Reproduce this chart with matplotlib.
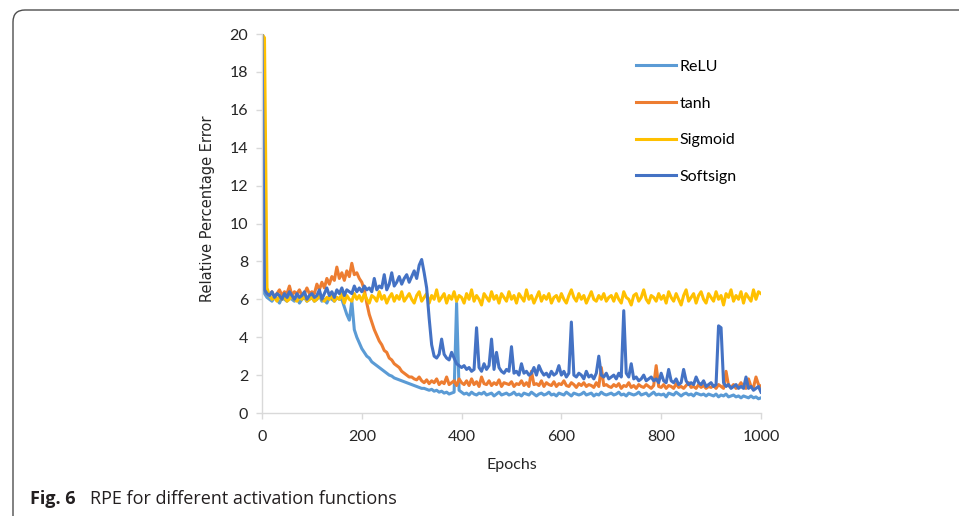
import numpy as np
import matplotlib
matplotlib.use("Agg")
import matplotlib.pyplot as plt
from matplotlib.patches import FancyBboxPatch

# RPE, one value every 5 epochs (0 .. 1000)
epochs = np.arange(0, 1001, 5)

relu = [
    20, 6.3, 6.1, 6.0, 5.9, 6.1, 6.0, 5.8, 6.1, 6.0, 5.9, 6.2, 6.0, 5.9, 6.1, 5.8, 6.0, 6.1, 5.9, 6.0,
    6.1, 5.9, 6.0, 6.2, 5.9, 6.0, 5.8, 6.1, 6.0, 5.9, 6.1, 6.0, 6.0, 5.6, 5.2, 4.9, 5.9, 4.4, 4.0, 3.7,
    3.4, 3.2, 3.0, 2.9, 2.7, 2.6, 2.5, 2.4, 2.3, 2.2, 2.1, 2.0, 1.95, 1.85, 1.8, 1.75, 1.7, 1.65, 1.6, 1.55,
    1.5, 1.45, 1.4, 1.35, 1.3, 1.3, 1.25, 1.2, 1.25, 1.15, 1.2, 1.1, 1.15, 1.05, 1.1, 1.0, 1.05, 1.1, 5.8, 1.2,
    1.1, 1.0, 1.05, 0.95, 1.1, 1.0, 0.95, 1.05, 1.0, 1.1, 0.95, 1.0, 1.05, 0.9, 1.0, 1.1, 0.95, 1.0, 1.05, 0.95,
    1.0, 1.1, 0.95, 1.0, 0.9, 1.05, 1.0, 0.95, 1.1, 1.0, 0.9, 1.0, 1.05, 0.95, 1.0, 1.1, 0.95, 1.0, 0.9, 1.05,
    1.0, 0.95, 1.1, 1.0, 0.9, 1.05, 1.0, 0.95, 1.0, 1.1, 0.95, 1.0, 1.05, 0.9, 1.0, 0.95, 1.1, 1.0, 0.95, 1.0,
    1.05, 0.95, 1.0, 1.1, 0.95, 1.0, 0.9, 1.05, 1.0, 0.95, 1.0, 1.1, 0.95, 1.0, 1.05, 0.9, 1.0, 1.1, 0.95, 1.0,
    0.95, 1.0, 0.85, 1.05, 1.0, 0.95, 1.1, 1.0, 0.9, 1.0, 1.05, 0.95, 1.0, 0.9, 1.05, 1.0, 0.95, 1.0, 0.9, 1.0,
    0.95, 0.9, 1.0, 0.85, 0.95, 0.9, 1.0, 0.85, 0.9, 0.95, 0.85, 0.9, 0.8, 0.9, 0.85, 0.8, 0.9, 0.8, 0.85, 0.75,
    0.8]

tanh = [
    20, 6.6, 6.3, 6.2, 6.4, 6.1, 6.3, 6.5, 6.2, 6.4, 6.3, 6.7, 6.2, 6.4, 6.3, 6.5, 6.2, 6.3, 6.6, 6.3,
    6.4, 6.3, 6.8, 6.5, 6.9, 6.6, 7.1, 6.8, 7.2, 7.0, 7.7, 7.1, 7.4, 7.0, 7.5, 7.2, 7.9, 7.3, 7.4, 7.1,
    6.9, 6.5, 5.8, 5.2, 4.8, 4.4, 4.1, 3.8, 3.6, 3.3, 3.2, 2.9, 2.8, 2.6, 2.5, 2.4, 2.2, 2.1, 2.0, 1.9,
    1.9, 1.8, 1.75, 1.9, 1.7, 1.6, 1.75, 1.55, 1.7, 1.6, 1.8, 1.5, 1.65, 1.55, 1.9, 1.5, 1.6, 1.7, 1.45, 1.8,
    1.6, 1.5, 1.7, 1.45, 1.8, 1.5, 1.65, 1.4, 1.9, 1.55, 1.5, 1.7, 1.45, 1.6, 1.5, 1.75, 1.4, 1.6, 1.55, 1.5,
    1.65, 1.4, 1.55, 1.5, 1.7, 1.45, 1.6, 1.4, 2.2, 1.5, 1.55, 1.45, 1.7, 1.4, 1.6, 1.5, 1.45, 1.65, 1.4, 1.55,
    1.5, 1.7, 1.45, 1.4, 1.6, 1.5, 1.35, 1.55, 1.45, 1.6, 1.4, 1.5, 1.45, 1.35, 1.6, 1.4, 2.4, 1.45, 1.5, 1.4,
    1.35, 1.5, 1.4, 1.55, 1.3, 1.45, 1.4, 1.6, 1.35, 1.45, 1.3, 1.5, 1.4, 1.35, 1.5, 1.4, 1.3, 1.45, 2.5, 1.4,
    1.35, 1.5, 1.3, 1.45, 1.4, 1.3, 1.55, 1.35, 1.4, 1.3, 1.45, 1.6, 1.35, 1.4, 1.3, 1.5, 1.35, 1.45, 1.3, 1.4,
    1.35, 1.45, 1.3, 1.5, 1.4, 1.3, 2.2, 1.45, 1.35, 1.5, 1.3, 1.4, 1.6, 1.35, 1.3, 1.8, 1.4, 1.35, 1.9, 1.5,
    1.4]

sigmoid = [
    20, 19.8, 6.6, 6.2, 6.0, 6.1, 5.9, 6.2, 6.0, 6.1, 5.9, 6.0, 6.2, 6.0, 5.9, 6.1, 6.0, 6.2, 5.9, 6.0,
    6.1, 5.9, 6.0, 6.2, 6.0, 5.9, 6.1, 6.0, 6.2, 5.9, 6.1, 6.0, 6.3, 5.8, 6.2, 6.0, 5.9, 6.3, 6.0, 6.2,
    5.9, 6.3, 6.0, 5.8, 6.2, 6.1, 5.9, 6.4, 6.0, 6.2, 5.8, 6.1, 6.3, 5.9, 6.2, 6.0, 6.4, 5.9, 6.1, 6.3,
    6.0, 5.8, 6.2, 6.4, 5.9, 6.1, 6.3, 5.8, 6.2, 6.0, 6.5, 5.9, 6.1, 6.3, 5.8, 6.2, 6.0, 6.4, 5.9, 6.2,
    6.1, 5.8, 6.3, 6.0, 6.5, 5.9, 6.2, 6.0, 5.7, 6.3, 6.1, 5.9, 6.4, 6.0, 6.2, 5.8, 6.3, 6.1, 5.9, 6.4,
    6.0, 6.2, 5.8, 6.3, 6.1, 5.9, 6.5, 6.0, 6.2, 5.8, 6.1, 6.4, 5.9, 6.2, 6.0, 6.3, 5.8, 6.1, 6.2, 5.9,
    6.3, 6.0, 5.8, 6.2, 6.5, 6.1, 5.9, 6.3, 6.0, 6.2, 5.8, 6.1, 6.4, 6.0, 5.9, 6.2, 6.0, 6.3, 5.9, 6.1,
    6.2, 5.9, 6.3, 6.0, 5.8, 6.4, 6.1, 6.0, 5.7, 6.2, 6.3, 5.9, 6.1, 6.5, 6.0, 5.8, 6.2, 6.1, 5.9, 6.3,
    6.0, 6.2, 5.8, 6.4, 6.1, 5.9, 6.3, 6.0, 5.7, 6.2, 6.5, 5.9, 6.1, 6.3, 5.8, 6.2, 6.4, 6.0, 5.8, 6.3,
    6.1, 5.9, 6.4, 6.0, 6.2, 5.7, 6.3, 6.1, 6.5, 5.9, 6.2, 6.0, 6.4, 5.8, 6.3, 6.1, 5.9, 6.5, 6.0, 6.4,
    6.3]

softsign = [
    20, 6.5, 6.3, 6.2, 6.4, 6.1, 6.3, 6.2, 6.0, 6.3, 6.1, 6.4, 6.2, 6.0, 6.3, 6.1, 6.2, 6.4, 6.0, 6.2,
    6.3, 6.1, 6.2, 6.5, 6.0, 6.3, 6.6, 6.2, 6.4, 6.1, 6.5, 6.3, 6.6, 6.2, 6.5, 6.4, 6.3, 6.7, 6.4, 6.6,
    6.4, 6.7, 6.5, 6.6, 6.4, 7.1, 6.5, 6.7, 6.6, 7.3, 6.5, 6.8, 7.4, 6.7, 6.9, 7.2, 6.8, 7.1, 7.3, 6.9,
    7.2, 7.5, 7.1, 7.8, 8.1, 7.4, 6.6, 5.0, 3.6, 3.0, 2.9, 3.1, 3.9, 3.1, 2.9, 2.8, 3.2, 2.9, 2.6, 2.5,
    2.4, 2.5, 2.3, 2.4, 2.2, 2.3, 4.5, 2.4, 2.2, 2.6, 2.3, 2.5, 3.9, 2.3, 3.2, 2.4, 2.2, 2.1, 2.3, 2.2,
    3.5, 2.1, 2.2, 2.0, 2.6, 2.1, 2.2, 2.0, 2.1, 2.4, 2.0, 2.5, 2.2, 2.0, 2.1, 1.9, 2.2, 2.0, 2.1, 2.5,
    2.0, 2.2, 1.9, 2.1, 4.8, 2.0, 1.9, 2.1, 2.0, 1.8, 2.2, 1.9, 2.0, 1.8, 2.1, 3.0, 2.0, 1.9, 2.1, 1.8,
    1.9, 2.0, 1.8, 2.1, 1.9, 5.4, 2.1, 1.9, 2.6, 1.8, 1.9, 1.7, 1.8, 2.0, 1.7, 1.8, 1.9, 1.7, 1.8, 1.6,
    2.1, 1.7, 1.6, 2.3, 1.7, 1.6, 1.8, 1.5, 1.6, 2.3, 1.7, 1.5, 1.6, 1.5, 1.9, 1.6, 1.5, 1.7, 1.4, 1.5,
    1.6, 1.4, 1.5, 4.6, 4.5, 1.6, 1.4, 1.5, 1.3, 1.4, 1.5, 1.3, 1.4, 1.3, 1.9, 1.3, 1.4, 1.2, 1.3, 1.4,
    1.1]

names = ["ReLU", "tanh", "Sigmoid", "Softsign"]
colors = ["#5B9BD5", "#ED7D31", "#FFC000", "#4472C4"]

plt.rcParams['font.family'] = ['Lato', 'DejaVu Sans']

fig = plt.figure(figsize=(9.59, 5.16), dpi=100)
ax = fig.add_axes([0.2732, 0.1996, 0.5203, 0.7345])

for vals, name, c in zip([relu, tanh, sigmoid, softsign], names, colors):
    ax.plot(epochs, vals, c=c, lw=2.2, label=name, solid_joinstyle='round')

ax.set_xlim(0, 1000)
ax.set_ylim(0, 20)
ax.set_xticks(np.arange(0, 1001, 200))
ax.set_yticks(np.arange(0, 21, 2))

for s in ['top', 'right']:
    ax.spines[s].set_visible(False)
for s in ['left', 'bottom']:
    ax.spines[s].set_color('#D9D9D9')
    ax.spines[s].set_linewidth(1.0)
ax.tick_params(axis='both', colors='#D9D9D9', labelcolor='#262626',
               labelsize=11.5, length=4, width=1.0)
ax.tick_params(axis='y', pad=6)
ax.tick_params(axis='x', pad=8)

ax.set_xlabel('Epochs', fontsize=11.5, color='#262626', labelpad=10)
ax.set_ylabel('Relative Percentage Error', fontsize=10.5, color='#262626',
              family='DejaVu Sans', labelpad=9)
ax.yaxis.set_label_coords(-0.095, 0.54)

fig.legend(loc='upper left', bbox_to_anchor=(0.663, 0.884), frameon=False,
           fontsize=11.5, handlelength=2.5, handletextpad=0.25,
           labelspacing=1.4, borderpad=0, borderaxespad=0)

# frame round the figure (only top and left edges show)
frame = FancyBboxPatch((0.13, -1.0), 11.0, 6.06,
                       boxstyle="round,pad=0,rounding_size=0.12",
                       transform=fig.dpi_scale_trans, fill=False,
                       ec='#4D4D4D', lw=1.0, clip_on=False)
fig.add_artist(frame)

fig.text(0.031, 0.024, 'Fig. 6', fontsize=13, weight='bold',
         family='Open Sans', color='#231F20')
fig.text(0.094, 0.024, 'RPE for different activation functions',
         fontsize=13, family='Open Sans', color='#231F20')

fig.savefig('out.png', dpi=100)
